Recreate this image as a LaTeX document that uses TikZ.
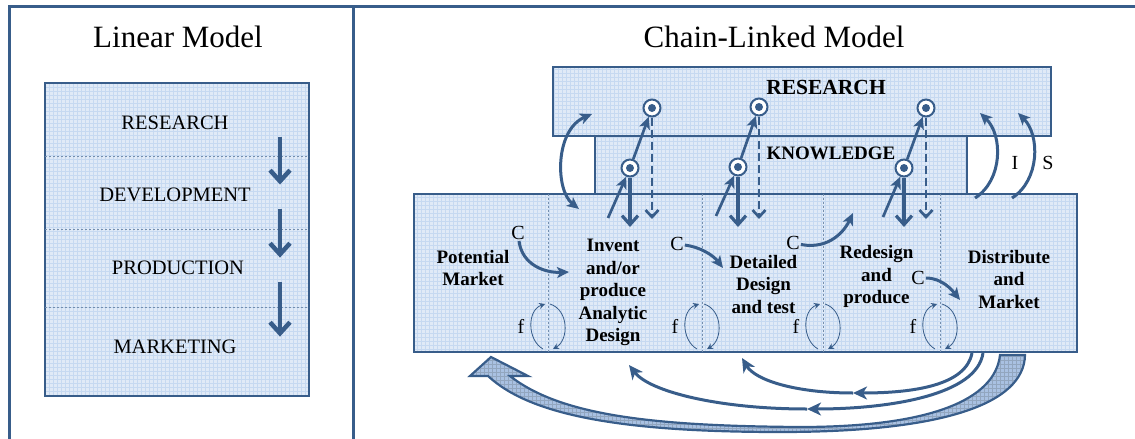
\documentclass[tikz,border=0pt]{standalone}
\usepackage{fontspec}
\setmainfont{Liberation Serif}
\usetikzlibrary{arrows.meta}
\definecolor{navy}{HTML}{385D8A}
\definecolor{paleblue}{HTML}{E0EAF7}
\definecolor{gridblue}{HTML}{C6D9F1}
\definecolor{bandblue}{HTML}{A9C1E2}

\tikzset{
  frameline/.style={draw=navy,line width=3pt},
  gridbox/.style={draw=navy,line width=2.8pt,fill=paleblue,inner sep=0pt,
    path picture={\draw[gridblue,line width=0.4pt,step=4pt]
      (path picture bounding box.south west) grid (path picture bounding box.north east);}},
  title/.style={font=\fontsize{31}{36}\selectfont},
  stage/.style={font=\fontsize{20.5}{24}\selectfont},
  boxhead/.style={font=\bfseries\fontsize{21.5}{25}\selectfont},
  boxtext/.style={font=\bfseries\fontsize{19}{22.5}\selectfont,align=center},
  letter/.style={font=\fontsize{20}{24}\selectfont,inner sep=1pt},
  ring/.style={circle,draw=navy,line width=2pt,fill=white,minimum size=17pt,inner sep=0pt,
    path picture={\fill[navy] (path picture bounding box.center) circle (4pt);}},
  divider/.style={navy!70,line width=0.6pt,dash pattern=on 2pt off 2pt},
  bigdown/.style={navy,line width=4.5pt,-{Straight Barb[length=11pt,width=20pt]}},
  uparrow/.style={navy,line width=2.7pt,-{Stealth[length=12pt,width=11pt,inset=3pt]}},
  kdown/.style={navy,line width=3.2pt,-{Straight Barb[length=9pt,width=16pt]}},
  dashdown/.style={navy,line width=2.7pt,dash pattern=on 8pt off 4pt,-{Straight Barb[length=7pt,width=13pt]}},
  carrow/.style={navy,line width=3pt,-{Stealth[length=12pt,width=11pt,inset=3pt]}},
  loopline/.style={navy,line width=0.8pt,-{Stealth[length=6pt,width=6pt,inset=2pt]}},
  fbarrow/.style={navy,line width=3pt,-{Stealth[length=14pt,width=13pt,inset=4pt]}},
  bandarrow/.style={draw=navy,line width=2.2pt,fill=bandblue,
    path picture={\draw[navy!55,line width=0.5pt,step=4pt]
      (path picture bounding box.south west) grid (path picture bounding box.north east);}}
}

\begin{document}
\begin{tikzpicture}[x=1pt,y=-1pt]
\useasboundingbox (0,0) rectangle (1135,439);

% frame of the two panels
\draw[frameline] (9,439) -- (9,6) -- (1135,6);
\draw[frameline] (353,6) -- (353,439);

\node[title] (lintitle) at (178,37) {Linear Model};
\node[title] (chaintitle) at (774,37) {Chain-Linked Model};

% linear model
\node[gridbox,minimum width=264,minimum height=313] (linbox) at (177,239.5) {};
\foreach \y in {156,229,307}
  \draw[divider] (45,\y) -- (309,\y);
\node[stage] (lres) at (175,123) {RESEARCH};
\node[stage] (ldev) at (175,195) {DEVELOPMENT};
\node[stage] (lprod) at (178,268) {PRODUCTION};
\node[stage] (lmark) at (175,347) {MARKETING};
\coordinate (ax) at (280,0);
\draw[bigdown] ([yshift=-4pt]lres.south -| ax) -- (ldev.north -| ax);
\draw[bigdown] ([yshift=-4pt]ldev.south -| ax) -- (lprod.north -| ax);
\draw[bigdown] ([yshift=-4pt]lprod.south -| ax) -- (lmark.north -| ax);

% chain-linked model
\node[gridbox,minimum width=372,minimum height=58] (knowledge) at (781,165) {};
\node[gridbox,minimum width=498,minimum height=69] (research) at (802,101.5) {};
\node[gridbox,minimum width=663,minimum height=158] (chain) at (745.5,273) {};
\node[boxhead] (rlabel) at (826,87.5) {RESEARCH};
\node[boxhead,font=\bfseries\fontsize{19}{23}\selectfont] (klabel) at (831,153.5) {KNOWLEDGE};

\foreach \d in {548,702,823,940}
  \draw[divider] (\d,194) -- (\d,352);

\node[boxtext] (potential) at (473,268) {Potential\\Market};
\node[boxtext] (invent) at (613,292.5) {Invent\\and/or\\produce\\Analytic\\Design};
\node[boxtext] (detailed) at (763.5,284) {Detailed\\Design\\and test};
\node[boxtext] (redesign) at (876.5,276.5) {Redesign\\and\\produce};
\node[boxtext] (distribute) at (1009,279) {Distribute\\and\\Market};

% research / knowledge links
\foreach \i/\rx/\ry/\kx/\ky/\ux/\uy in {1/652/108/630/168/608/218, 2/759/107/738/167/716/216, 3/926/108/904/168/883/217}
{
  \node[ring] (r\i) at (\rx,\ry) {};
  \node[ring] (k\i) at (\kx,\ky) {};
  \coordinate (u\i) at (\ux,\uy);
  \coordinate (d\i) at (\kx,227);
  \coordinate (e\i) at (\rx,219);
  \draw[uparrow] (u\i) -- (k\i);
  \draw[uparrow] (k\i) -- (r\i);
  \draw[kdown] (k\i) -- (d\i);
  \draw[dashdown] (r\i) -- (e\i);
}

\coordinate (dtop) at (592,114);
\coordinate (dbot) at (579,209);
\draw[carrow,{Stealth[length=12pt,width=11pt,inset=3pt]}-{Stealth[length=12pt,width=11pt,inset=3pt]}]
  (dtop) .. controls (555,130) and (555,190) .. (dbot);

% I and S
\coordinate (is) at (975,198);
\coordinate (ie) at (980,113);
\coordinate (ss) at (1012,198);
\coordinate (se) at (1018,113);
\draw[carrow] (is) .. controls (1003,180) and (1003,135) .. (ie);
\draw[carrow] (ss) .. controls (1040,180) and (1040,135) .. (se);
\node[letter] (ilabel) at (1015,163) {I};
\node[letter] (slabel) at (1048,163) {S};

% C links
\node[letter] (c1) at (518,233) {C};
\node[letter] (c2) at (677,244) {C};
\node[letter] (c3) at (793,243) {C};
\node[letter] (c4) at (918,278) {C};
\coordinate (ce1) at (569,272);
\coordinate (ce2) at (723,268);
\coordinate (ce3) at (853,213);
\coordinate (ce4) at (960,300);
\draw[carrow] (c1) .. controls (522,265) and (545,273) .. (ce1);
\draw[carrow] (c2) .. controls (700,247) and (713,255) .. (ce2);
\draw[carrow] (c3) .. controls (830,250) and (845,230) .. (ce3);
\draw[carrow] (c4) .. controls (942,278) and (952,290) .. (ce4);

% f loops
\foreach \d [count=\j] in {548,702,823,940}
{
  \node[letter] (f\j) at (\d-27,326) {f};
  \draw[loopline] (\d-5,349) .. controls (\d-21,340) and (\d-21,310) .. (\d-3,304);
  \draw[loopline] (\d+2,304) .. controls (\d+21,310) and (\d+21,340) .. (\d+5,349);
}

% feedback below
\coordinate (b1s) at (972,353);
\coordinate (b1m) at (853,393);
\coordinate (b1e) at (742,358);
\coordinate (b2s) at (983,353);
\coordinate (b2m) at (807,409);
\coordinate (b2e) at (629,365);
\draw[fbarrow] (b1s) .. controls (966,385) and (915,393) .. (b1m);
\draw[fbarrow] (b1m) .. controls (795,393) and (755,380) .. (b1e);
\draw[fbarrow] (b2s) .. controls (977,395) and (890,409) .. (b2m);
\draw[fbarrow] (b2m) .. controls (720,409) and (650,392) .. (b2e);
\path[bandarrow] (491,357) -- (528,376) -- (510,376)
  .. controls (560,415) and (650,426) .. (800,427)
  .. controls (930,427) and (995,400) .. (1000,355) -- (1025,355)
  .. controls (1024,405) and (940,432) .. (780,432)
  .. controls (620,432) and (530,415) .. (488,376) -- (470,376) -- cycle;
\end{tikzpicture}
\end{document}
